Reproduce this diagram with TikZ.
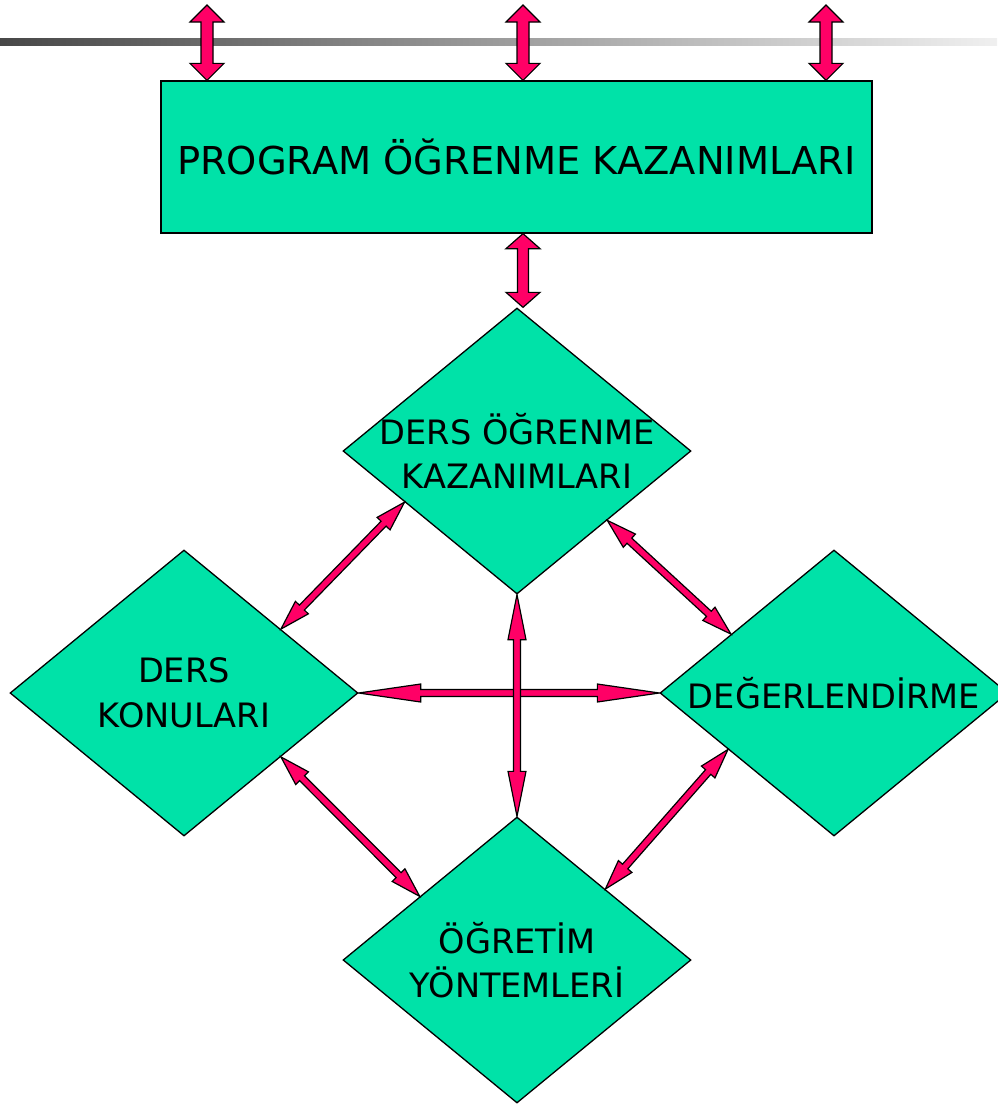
\documentclass[tikz,border=0pt]{standalone}
\usepackage{fontspec}
\setmainfont{DejaVu Sans}
\usetikzlibrary{shapes.geometric,calc}
\definecolor{turkuaz}{RGB}{0,226,168}
\definecolor{pembe}{RGB}{255,0,102}
\tikzset{
  progbox/.style={draw=black,line width=1.3pt,fill=turkuaz,inner sep=0pt,
    minimum width=711pt,minimum height=152pt,font=\fontsize{38.4}{46}\selectfont},
  diabox/.style={diamond,draw=black,line width=1.3pt,fill=turkuaz,inner sep=0pt,
    minimum width=348pt,minimum height=286pt},
  lbl/.style={align=center,inner sep=0pt,font=\fontsize{33.6}{44.5}\selectfont},
  blockarrow/.style={draw=black,line width=1.2pt,fill=pembe,line join=miter}
}
% #1,#2 ends, #3 half shaft, #4 half head, #5 head length
\newcommand{\dblarrow}[5]{%
  \draw[blockarrow] (#1)
    -- ($($(#1)!#5pt!(#2)$)!#4pt!90:(#2)$)
    -- ($($(#1)!#5pt!(#2)$)!#3pt!90:(#2)$)
    -- ($($(#2)!#5pt!(#1)$)!#3pt!-90:(#1)$)
    -- ($($(#2)!#5pt!(#1)$)!#4pt!-90:(#1)$)
    -- (#2)
    -- ($($(#2)!#5pt!(#1)$)!#4pt!90:(#1)$)
    -- ($($(#2)!#5pt!(#1)$)!#3pt!90:(#1)$)
    -- ($($(#1)!#5pt!(#2)$)!#3pt!-90:(#2)$)
    -- ($($(#1)!#5pt!(#2)$)!#4pt!-90:(#2)$)
    -- cycle;}

\begin{document}
\begin{tikzpicture}[x=1pt,y=-1pt]
\useasboundingbox (0,0) rectangle (997,1104);
\shade[left color=black!72,right color=black!6] (0,38) rectangle (997,45);

\node[progbox] (prog) at (516.5,157) {PROGRAM ÖĞRENME KAZANIMLARI};
\node[diabox] (dkaz) at (517,451) {};
\node[diabox] (dkon) at (184,693) {};
\node[diabox] (deg) at (834,693) {};
\node[diabox] (dyon) at (517,960) {};
\node[lbl] (tkaz) at (dkaz.center) {DERS ÖĞRENME\\KAZANIMLARI};
\node[lbl] (tkon) at (dkon.center) {DERS\\KONULARI};
\node[lbl] (tdeg) at (deg.center) {DEĞERLENDİRME};
\node[lbl] (tyon) at (dyon.center) {ÖĞRETİM\\YÖNTEMLERİ};

% ust oklar
\coordinate (u1) at (207,5);
\coordinate (u2) at (523,5);
\coordinate (u3) at (826,5);
\coordinate (a1) at (u1 |- prog.north);
\coordinate (a2) at (u2 |- prog.north);
\coordinate (a3) at (u3 |- prog.north);
\coordinate (pm) at (u2 |- prog.south);
\coordinate (dm) at (u2 |- dkaz.north);
\dblarrow{u1}{a1}{6}{17}{17}
\dblarrow{u2}{a2}{6}{17}{17}
\dblarrow{u3}{a3}{6}{17}{17}
\dblarrow{pm}{dm}{5.5}{17}{15}

% capraz oklar
\coordinate (k1) at ($(dkaz.west)!0.356!(dkaz.south)$);
\coordinate (k2) at ($(dkon.north)!0.555!(dkon.east)$);
\coordinate (k3) at ($(dkaz.east)!0.483!(dkaz.south)$);
\coordinate (k4) at ($(deg.north)!0.59!(deg.west)$);
\coordinate (k5) at ($(dkon.east)!0.445!(dkon.south)$);
\coordinate (k6) at ($(dyon.north)!0.557!(dyon.west)$);
\coordinate (k7) at ($(deg.west)!0.393!(deg.south)$);
\coordinate (k8) at ($(dyon.north)!0.506!(dyon.east)$);
\dblarrow{k1}{k2}{3.5}{9}{30}
\dblarrow{k3}{k4}{3.5}{9}{30}
\dblarrow{k5}{k6}{3.5}{9}{30}
\dblarrow{k7}{k8}{3.5}{9}{30}

\dblarrow{dkon.east}{deg.west}{3.5}{9}{62}
\dblarrow{dkaz.south}{dyon.north}{3.5}{9}{45}
\end{tikzpicture}
\end{document}
